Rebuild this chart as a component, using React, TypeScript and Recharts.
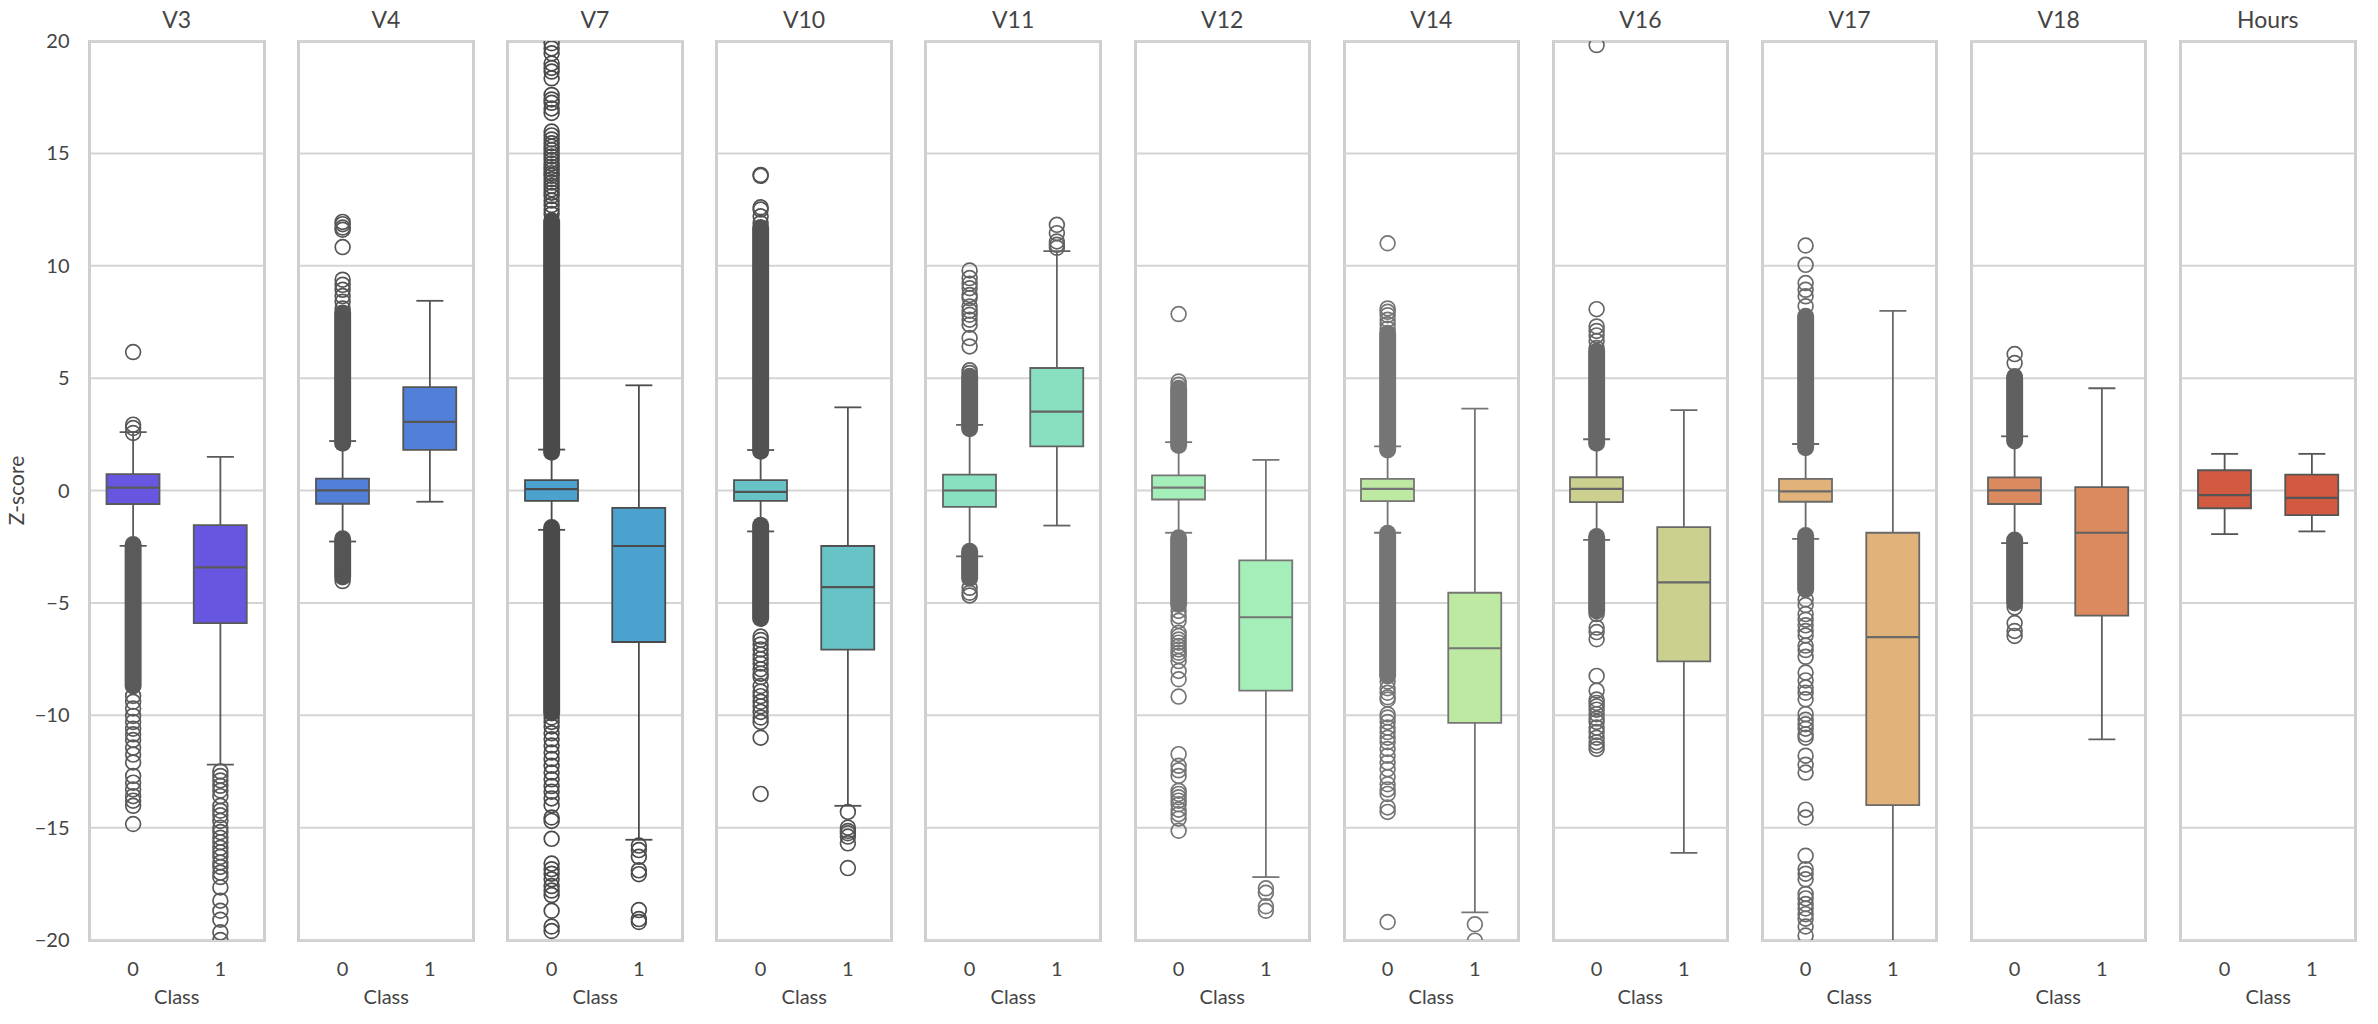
import { Bar, CartesianGrid, ComposedChart, Scatter, XAxis, YAxis } from "recharts";

const FEATURES = ["V3", "V4", "V7", "V10", "V11", "V12", "V14", "V16", "V17", "V18", "Hours"];
const CLASSES = ["0", "1"];
const Y_TICKS = [-20, -15, -10, -5, 0, 5, 10, 15, 20];

const FILLS = ["#6656e0", "#5280d8", "#4ca2cf", "#67c3c6", "#88e0c1", "#a4efb9", "#bde9a3", "#cbd08e", "#e1b27a", "#da8a5e", "#d25a41"];
const LINES = ["#5a5a5a", "#555555", "#4a4a4a", "#525252", "#636363", "#757575", "#757575", "#676767", "#6a6a6a", "#606060", "#555555"];

// one [class 0, class 1] pair per feature
const Q1 = [[-0.6, -5.9], [-0.59, 1.81], [-0.46, -6.74], [-0.46, -7.08], [-0.73, 1.96], [-0.4, -8.9], [-0.47, -10.34], [-0.52, -7.6], [-0.5, -14], [-0.6, -5.57], [-0.79, -1.1]];
const MEDIANS = [[0.13, -3.42], [0.01, 3.05], [0.06, -2.47], [-0.06, -4.3], [0, 3.51], [0.13, -5.64], [0.07, -7.02], [0.07, -4.09], [-0.04, -6.52], [0.01, -1.88], [-0.21, -0.33]];
const Q3 = [[0.73, -1.54], [0.53, 4.6], [0.46, -0.77], [0.46, -2.47], [0.71, 5.45], [0.67, -3.11], [0.52, -4.55], [0.59, -1.63], [0.52, -1.88], [0.58, 0.15], [0.9, 0.71]];
const WHISKER_LOW = [[-2.46, -12.2], [-2.27, -0.5], [-1.75, -15.54], [-1.82, -14.03], [-2.93, -1.56], [-1.88, -17.2], [-1.88, -18.77], [-2.2, -16.12], [-2.15, -21], [-2.34, -11.07], [-1.94, -1.82]];
const WHISKER_HIGH = [[2.6, 1.5], [2.2, 8.44], [1.82, 4.68], [1.8, 3.7], [2.92, 10.65], [2.15, 1.36], [1.96, 3.64], [2.28, 3.58], [2.07, 7.99], [2.41, 4.55], [1.63, 1.63]];

// stretches of class 0 where the fliers overlap into a solid column
const DENSE_UPPER = [null, [2.1, 7.9], [1.7, 12], [1.75, 11.7], [2.75, 5.08], [2, 4.55], [1.8, 7], [2.1, 6.2], [1.9, 7.75], [2.2, 5], null];
const DENSE_LOWER = [[-2.4, -8.7], [-2.15, -3.85], [-1.65, -9.9], [-1.55, -5.7], [-2.7, -3.9], [-2.1, -5.07], [-1.9, -8.25], [-2.05, -5.36], [-2, -4.4], [-2.2, -5], null];

const FLIERS_0 = [
  [6.16, 2.93, 2.78, 2.56, -9.14, -9.4, -9.7, -10.03, -10.3, -10.6, -10.85, -11.1, -11.44, -11.75, -12.1, -12.7, -13, -13.3, -13.6, -13.8, -14.03, -14.84],
  [11.95, 11.85, 11.7, 11.6, 10.83, 9.38, 9.15, 8.93, 8.65, 8.4, 8.1, -4.03],
  [19.9, 19.67, 19.45, 19, 18.8, 18.64, 18.34, 17.6, 17.4, 17.25, 17, 16.8, 15.97, 15.8, 15.62, 15.45, 15.3, 15.15, 15, 14.86, 14.7, 14.55, 14.4, 14.27, 14.12, 14, 13.85, 13.7, 13.55, 13.4, 13.25, 13.1, 12.9, 12.7, 12.5, 12.3, -10.1, -10.3, -10.5, -10.8, -11.07, -11.35, -11.66, -11.95, -12.25, -12.55, -12.85, -13.15, -13.4, -13.7, -14, -14.55, -14.7, -15.5, -16.6, -16.85, -17.05, -17.3, -17.6, -17.8, -18, -18.7, -19.4, -19.6],
  [14.04, 14, 12.6, 12.5, 12.2, 11.9, -6.5, -6.65, -6.85, -7.07, -7.3, -7.5, -7.7, -7.95, -8.15, -8.3, -8.7, -8.95, -9.15, -9.4, -9.6, -9.85, -10.1, -10.3, -11, -13.5],
  [9.79, 9.45, 9.2, 9, 8.7, 8.56, 8.19, 8, 7.82, 7.6, 7.38, 6.78, 6.41, 5.35, 5.23, -4.33, -4.55, -4.67],
  [7.85, 4.85, 4.7, -5.36, -5.59, -5.8, -6.33, -6.48, -6.63, -6.77, -6.92, -7.07, -7.22, -7.36, -7.59, -8.03, -8.4, -9.17, -11.73, -12.25, -12.45, -12.7, -13.36, -13.5, -13.65, -13.8, -13.96, -14.2, -14.4, -14.6, -15.14],
  [11, 8.1, 7.95, 7.8, 7.6, 7.4, 7.2, -8.5, -8.8, -9, -9.2, -9.3, -9.96, -10.1, -10.3, -10.55, -10.75, -11, -11.2, -11.5, -11.8, -12.1, -12.4, -12.75, -13.07, -13.3, -13.5, -14.1, -14.3, -19.2],
  [19.82, 8.07, 7.3, 7.1, 6.9, 6.65, 6.34, -5.5, -6.1, -6.3, -6.62, -8.25, -8.9, -9.3, -9.45, -9.6, -9.75, -9.95, -10.15, -10.3, -10.55, -10.75, -11, -11.2, -11.35, -11.5],
  [10.9, 10.04, 9.23, 8.93, 8.64, 8.2, -4.84, -5.1, -5.5, -5.75, -6, -6.25, -6.45, -6.9, -7.1, -7.4, -8.1, -8.45, -8.77, -9, -9.29, -9.95, -10.2, -10.4, -10.6, -10.85, -11, -11.8, -12.2, -12.55, -14.2, -14.55, -16.25, -16.85, -17.05, -17.3, -17.95, -18.15, -18.4, -18.6, -18.85, -19.05, -19.4, -19.8],
  [6.07, 5.67, 5.08, -5.2, -5.9, -6.25, -6.47],
  [],
];
const FLIERS_1 = [
  [-12.5, -12.7, -12.9, -13.14, -13.35, -13.6, -14.03, -14.25, -14.45, -14.7, -15, -15.2, -15.45, -15.65, -15.9, -16.1, -16.3, -16.55, -16.75, -17, -17.2, -17.66, -18.25, -18.7, -19.1, -19.66, -20],
  [],
  [-15.8, -16, -16.3, -16.9, -17.07, -18.67, -19.07, -19.2],
  [-14.3, -15, -15.15, -15.25, -15.4, -15.7, -16.8],
  [11.82, 11.45, 11.08, 10.93, 10.8],
  [-17.7, -17.9, -18.5, -18.7],
  [-19.3, -20.03],
  [],
  [],
  [],
  [],
];

const PLOT_LEFT = 89.5;
const PLOT_STEP = 209.1;
const PLOT_WIDTH = 174.5;
const PLOT_TOP = 41;
const PLOT_HEIGHT = 899;
const TEXT_COLOR = "#444444";
const FONT = "Lato, sans-serif";
const LABEL_SIZE = 20;

function HLine({ cx, cy, half, color, width }: any) {
  return <line x1={cx - half} x2={cx + half} y1={cy} y2={cy} stroke={color} strokeWidth={width} />;
}

function Ring({ cx, cy, color }: any) {
  return <circle cx={cx} cy={cy} r={7.4} fill="none" stroke={color} strokeWidth={1.7} />;
}

function Panel({ index }: { index: number }) {
  const line = LINES[index];
  const left = PLOT_LEFT + PLOT_STEP * index;
  const axisWidth = index === 0 ? PLOT_LEFT : 0;
  const boxes = CLASSES.map((cls, c) => ({ cls, box: [Q1[index][c], Q3[index][c]] }));
  const medians = CLASSES.map((cls, c) => ({ cls, y: MEDIANS[index][c] }));
  const whiskers = CLASSES.flatMap((cls, c) => [
    [
      { cls, y: WHISKER_LOW[index][c] },
      { cls, y: Q1[index][c] },
    ],
    [
      { cls, y: Q3[index][c] },
      { cls, y: WHISKER_HIGH[index][c] },
    ],
  ]);
  const dense = [DENSE_UPPER[index], DENSE_LOWER[index]].filter(Boolean) as number[][];

  return (
    <>
      <div
        style={{
          position: "absolute",
          left: left - 1.5,
          top: PLOT_TOP - 1.5,
          width: PLOT_WIDTH + 3,
          height: PLOT_HEIGHT + 3,
          boxSizing: "border-box",
          border: "3px solid #cfcfcf",
        }}
      />
      <div
        style={{
          position: "absolute",
          left,
          top: 4,
          width: PLOT_WIDTH,
          textAlign: "center",
          fontFamily: FONT,
          fontSize: 23,
          lineHeight: "30px",
          color: TEXT_COLOR,
        }}
      >
        {FEATURES[index]}
      </div>
      <div style={{ position: "absolute", left: left - axisWidth, top: 0 }}>
        <ComposedChart
          width={PLOT_WIDTH + axisWidth}
          height={1024}
          data={boxes}
          margin={{ top: PLOT_TOP, right: 0, bottom: 0, left: 0 }}
        >
          <CartesianGrid vertical={false} stroke="#d4d4d4" strokeWidth={2} horizontalValues={Y_TICKS} />
          <XAxis
            dataKey="cls"
            type="category"
            allowDuplicatedCategory={false}
            allowDataOverflow
            height={84}
            axisLine={false}
            tickLine={false}
            tickMargin={16}
            tick={{ fontSize: LABEL_SIZE, fontFamily: FONT, fill: TEXT_COLOR }}
            label={{
              value: "Class",
              position: "insideBottom",
              offset: 20,
              style: { fontSize: LABEL_SIZE, fontFamily: FONT, fill: TEXT_COLOR },
            }}
          />
          <YAxis
            type="number"
            domain={[-20, 20]}
            ticks={Y_TICKS}
            allowDataOverflow
            hide={index !== 0}
            width={axisWidth}
            axisLine={false}
            tickLine={false}
            tickMargin={14}
            tickFormatter={(v) => String(v).replace("-", "\u2212")}
            tick={{ fontSize: LABEL_SIZE, fontFamily: FONT, fill: TEXT_COLOR }}
            label={{
              value: "Z-score",
              angle: -90,
              position: "insideLeft",
              offset: 17,
              style: { fontSize: 21, fontFamily: FONT, fill: TEXT_COLOR, textAnchor: "middle" },
            }}
          />
          {whiskers.map((segment) => (
            <Scatter
              key={`whisker-${segment[0].cls}-${segment[0].y}`}
              data={segment}
              dataKey="y"
              isAnimationActive={false}
              line={{ stroke: line, strokeWidth: 1.8 }}
              shape={(p: any) =>
                p.payload.y === WHISKER_LOW[index][CLASSES.indexOf(p.payload.cls)] ||
                p.payload.y === WHISKER_HIGH[index][CLASSES.indexOf(p.payload.cls)] ? (
                  <HLine {...p} half={13.5} color={line} width={1.8} />
                ) : (
                  <g />
                )
              }
            />
          ))}
          <Bar dataKey="box" barSize={53} fill={FILLS[index]} stroke={line} strokeWidth={1.8} isAnimationActive={false} />
          <Scatter
            data={medians}
            dataKey="y"
            isAnimationActive={false}
            shape={(p: any) => <HLine {...p} half={26.5} color={line} width={2.2} />}
          />
          {dense.map((range) => (
            <Scatter
              key={`dense-${range[0]}`}
              data={range.map((y) => ({ cls: "0", y }))}
              dataKey="y"
              isAnimationActive={false}
              line={{ stroke: line, strokeWidth: 17, strokeLinecap: "round" }}
              shape={() => <g />}
            />
          ))}
          <Scatter
            data={FLIERS_0[index].map((y) => ({ cls: "0", y }))}
            dataKey="y"
            isAnimationActive={false}
            shape={(p: any) => <Ring {...p} color={line} />}
          />
          <Scatter
            data={FLIERS_1[index].map((y) => ({ cls: "1", y }))}
            dataKey="y"
            isAnimationActive={false}
            shape={(p: any) => <Ring {...p} color={line} />}
          />
        </ComposedChart>
      </div>
    </>
  );
}

export default function App() {
  return (
    <div style={{ position: "absolute", left: 0, top: 0, width: 2378, height: 1024, background: "#fff" }}>
      {FEATURES.map((name, i) => (
        <Panel key={name} index={i} />
      ))}
    </div>
  );
}
